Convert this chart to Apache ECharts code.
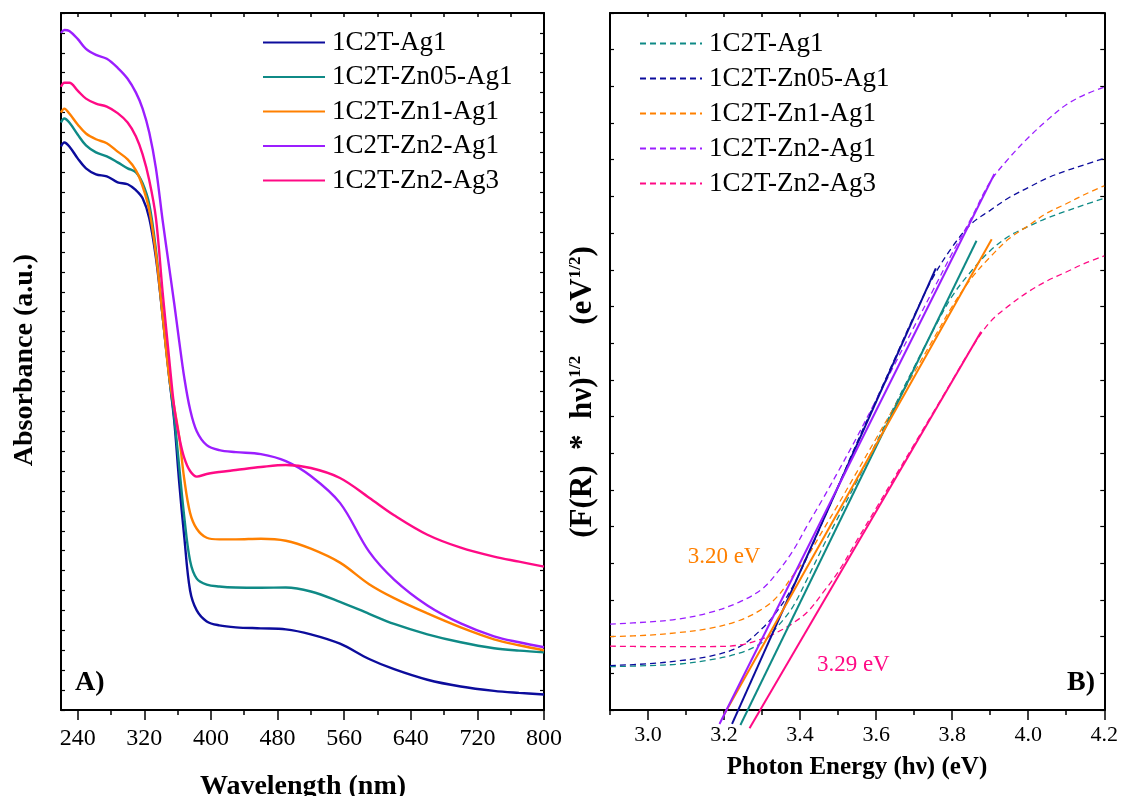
<!DOCTYPE html>
<html>
<head>
<meta charset="utf-8">
<script src="https://cdn.jsdelivr.net/npm/echarts@6.0.0/dist/echarts.min.js"></script>
<style>
html, body { margin: 0; padding: 0; background: #fff; }
#chart { width: 1121px; height: 796px; }
</style>
</head>
<body>
<div id="chart"></div>
<script>
// ---- panel A: absorbance spectra ----
var wavelength = [220, 224, 230, 240, 250, 262, 275, 288, 300, 310, 318, 326, 334, 342, 350, 356, 362, 368, 375, 383,
                  395, 410, 430, 460, 490, 520, 555, 590, 620, 660, 700, 740, 770, 800];
var absAg1     = [2.83, 2.85, 2.83, 2.77, 2.72, 2.69, 2.68, 2.65, 2.64, 2.61, 2.57, 2.47, 2.27, 1.98, 1.67, 1.45, 1.14, 0.87, 0.60, 0.50,
                  0.445, 0.425, 0.415, 0.41, 0.405, 0.38, 0.333, 0.256, 0.205, 0.152, 0.118, 0.096, 0.086, 0.078];
var absZn05    = [2.95, 2.97, 2.95, 2.89, 2.835, 2.80, 2.78, 2.75, 2.72, 2.70, 2.645, 2.54, 2.31, 1.98, 1.67, 1.47, 1.22, 0.97, 0.75, 0.66,
                  0.63, 0.62, 0.615, 0.614, 0.615, 0.595, 0.543, 0.483, 0.432, 0.38, 0.34, 0.31, 0.298, 0.29];
var absZn1     = [3.00, 3.02, 2.995, 2.94, 2.895, 2.866, 2.846, 2.804, 2.765, 2.71, 2.63, 2.51, 2.29, 1.98, 1.67, 1.52, 1.37, 1.16, 0.99, 0.91,
                  0.865, 0.857, 0.857, 0.86, 0.85, 0.81, 0.74, 0.632, 0.562, 0.485, 0.415, 0.355, 0.325, 0.30];
var absZn2     = [3.40, 3.415, 3.41, 3.37, 3.32, 3.29, 3.27, 3.225, 3.17, 3.10, 3.02, 2.90, 2.72, 2.46, 2.22, 2.04, 1.85, 1.67, 1.51, 1.40,
                  1.33, 1.305, 1.295, 1.285, 1.25, 1.175, 1.04, 0.795, 0.655, 0.525, 0.435, 0.37, 0.34, 0.315];
var absZn2Ag3  = [3.13, 3.15, 3.15, 3.11, 3.07, 3.045, 3.03, 2.997, 2.95, 2.88, 2.79, 2.66, 2.47, 2.10, 1.76, 1.52, 1.37, 1.266, 1.20, 1.172,
                  1.185, 1.195, 1.205, 1.22, 1.23, 1.215, 1.165, 1.066, 0.978, 0.88, 0.815, 0.77, 0.745, 0.72];

// ---- panel B: Tauc plot ----
var energy     = [2.90, 3.00, 3.08, 3.16, 3.24, 3.30, 3.34, 3.38, 3.42, 3.46, 3.50, 3.55, 3.60, 3.65, 3.70, 3.75, 3.80, 3.85,
                  3.90, 3.95, 4.00, 4.05, 4.10, 4.15, 4.20];
var taucAg1    = [0.118, 0.121, 0.125, 0.136, 0.155, 0.184, 0.227, 0.280, 0.360, 0.445, 0.525, 0.625, 0.728, 0.832, 0.935, 1.035, 1.128, 1.196,
                  1.252, 1.292, 1.318, 1.341, 1.360, 1.378, 1.395];
var taucZn05   = [0.121, 0.126, 0.134, 0.146, 0.172, 0.222, 0.270, 0.335, 0.420, 0.515, 0.610, 0.730, 0.845, 0.960, 1.075, 1.180, 1.262, 1.325,
                  1.362, 1.397, 1.424, 1.450, 1.470, 1.487, 1.504];
var taucZn1    = [0.200, 0.204, 0.211, 0.222, 0.244, 0.275, 0.309, 0.365, 0.420, 0.490, 0.560, 0.650, 0.740, 0.830, 0.920, 1.010, 1.100, 1.176,
                  1.235, 1.285, 1.320, 1.355, 1.380, 1.406, 1.429];
var taucZn2    = [0.234, 0.240, 0.248, 0.265, 0.294, 0.330, 0.375, 0.432, 0.505, 0.576, 0.650, 0.745, 0.845, 0.945, 1.045, 1.145, 1.245, 1.340,
                  1.440, 1.505, 1.560, 1.608, 1.650, 1.678, 1.698];
var taucZn2Ag3 = [0.174, 0.173, 0.173, 0.173, 0.177, 0.194, 0.212, 0.236, 0.268, 0.320, 0.376, 0.463, 0.550, 0.637, 0.724, 0.811, 0.898, 0.985,
                  1.058, 1.103, 1.140, 1.170, 1.194, 1.218, 1.238];

// linear fits (start / end points)
var fitAg1X = [3.243, 3.864],    fitAg1Y = [-0.041, 1.279];
var fitZn05X = [3.221, 3.757],   fitZn05Y = [-0.038, 1.204];
var fitZn1X = [3.199, 3.904],    fitZn1Y = [-0.014, 1.283];
var fitZn2X = [3.188, 3.911],    fitZn2Y = [-0.038, 1.461];
var fitZn2Ag3X = [3.267, 3.876], fitZn2Ag3Y = [-0.050, 1.031];

var names = ['1C2T-Ag1', '1C2T-Zn05-Ag1', '1C2T-Zn1-Ag1', '1C2T-Zn2-Ag1', '1C2T-Zn2-Ag3'];
var wlMajor = [240, 320, 400, 480, 560, 640, 720, 800];
var wlMinor = [280, 360, 440, 520, 600, 680, 760];
var eMajor = [3.0, 3.2, 3.4, 3.6, 3.8, 4.0, 4.2];
var eMinor = [2.9, 3.1, 3.3, 3.5, 3.7, 3.9, 4.1];

var NAVY = '#0c0c9c', TEAL = '#0f8a86', ORANGE = '#ff8000', PURPLE = '#9b1eff', PINK = '#ff0a85';
var SERIF = '"Liberation Serif", "Times New Roman", serif';

(function() {
    var chart = echarts.init(document.getElementById('chart'));

    function zip(xs, ys) {
        return xs.map(function(x, i) { return [x, ys[i]]; });
    }

    function solid(name, color, xs, ys) {
        return {
            name: name, type: 'line', xAxisIndex: 0, yAxisIndex: 0,
            data: zip(xs, ys), symbol: 'none', smooth: 0.35,
            lineStyle: { color: color, width: 2.4 }, itemStyle: { color: color }
        };
    }

    function dashed(name, color, ys) {
        return {
            name: name + ' (B)', type: 'line', xAxisIndex: 3, yAxisIndex: 2,
            data: zip(energy, ys), symbol: 'none', smooth: 0.35,
            lineStyle: { color: color, width: 1.3, type: [6, 4] }, itemStyle: { color: color }
        };
    }

    function fit(name, color, xs, ys) {
        return {
            name: name, type: 'line', xAxisIndex: 3, yAxisIndex: 2, clip: false,
            data: zip(xs, ys), symbol: 'none',
            lineStyle: { color: color, width: 2 }
        };
    }

    function xAx(grid, pos, min, max, ticks, len, inside, labels, fmt, size, margin, line) {
        return {
            type: 'value', gridIndex: grid, position: pos, min: min, max: max,
            axisLine: { show: line, onZero: false, lineStyle: { color: '#000', width: 2 } },
            axisTick: { show: true, customValues: ticks, length: len, inside: inside, lineStyle: { color: '#000', width: 1.5 } },
            axisLabel: labels ? { show: true, customValues: labels, formatter: fmt, color: '#000',
                                  fontFamily: SERIF, fontSize: size, margin: margin } : { show: false },
            splitLine: { show: false }
        };
    }

    function yAx(grid, pos, max) {
        return {
            type: 'value', gridIndex: grid, position: pos, min: 0, max: max, interval: 0.1,
            axisLine: { show: true, onZero: false, lineStyle: { color: '#000', width: 2 } },
            axisTick: { show: true, inside: true, length: 4, lineStyle: { color: '#000', width: 1.2 } },
            axisLabel: { show: false },
            splitLine: { show: false }
        };
    }

    var allWl = wlMajor.concat(wlMinor);
    var allE = eMajor.concat(eMinor);
    var legendText = { fontFamily: SERIF, fontSize: 27, color: '#000', padding: [0, 0, 0, 2] };
    var noteLabel = { show: true, position: 'inside', fontFamily: SERIF, textBorderWidth: 0, opacity: 1 };

    var option = {
        animation: false,
        backgroundColor: '#fff',
        grid: [
            { left: 61, top: 13, width: 483, height: 697 },
            { left: 610, top: 13, width: 495, height: 697 }
        ],
        xAxis: [
            xAx(0, 'bottom', 220, 800, wlMajor, 10, false, wlMajor, function(v) { return String(v); }, 24, 17, true),
            xAx(0, 'bottom', 220, 800, wlMinor, 5, false, null, null, 0, 0, false),
            xAx(0, 'top', 220, 800, allWl, 4, true, null, null, 0, 0, true),
            xAx(1, 'bottom', 2.9, 4.2, eMajor, 10, false, eMajor, function(v) { return v.toFixed(1); }, 22, 14, true),
            xAx(1, 'bottom', 2.9, 4.2, eMinor, 5, false, null, null, 0, 0, false),
            xAx(1, 'top', 2.9, 4.2, allE, 4, true, null, null, 0, 0, true)
        ],
        yAxis: [
            yAx(0, 'left', 3.5),
            yAx(0, 'right', 3.5),
            yAx(1, 'left', 1.9),
            yAx(1, 'right', 1.9)
        ],
        legend: [
            {
                data: names, orient: 'vertical', left: 257, top: 24,
                itemWidth: 62, itemHeight: 14, itemGap: 7.5,
                itemStyle: { opacity: 0 },
                textStyle: legendText
            },
            {
                data: names.map(function(n) { return n + ' (B)'; }),
                formatter: function(n) { return n.replace(' (B)', ''); },
                orient: 'vertical', left: 634, top: 25,
                itemWidth: 62, itemHeight: 14, itemGap: 8,
                itemStyle: { opacity: 0 },
                textStyle: legendText
            }
        ],
        series: [
            solid(names[0], NAVY, wavelength, absAg1),
            solid(names[1], TEAL, wavelength, absZn05),
            solid(names[2], ORANGE, wavelength, absZn1),
            solid(names[3], PURPLE, wavelength, absZn2),
            solid(names[4], PINK, wavelength, absZn2Ag3),

            dashed(names[0], TEAL, taucAg1),
            dashed(names[1], NAVY, taucZn05),
            dashed(names[2], ORANGE, taucZn1),
            dashed(names[3], PURPLE, taucZn2),
            dashed(names[4], PINK, taucZn2Ag3),

            fit('fit Ag1', TEAL, fitAg1X, fitAg1Y),
            fit('fit Zn05', NAVY, fitZn05X, fitZn05Y),
            fit('fit Zn1', ORANGE, fitZn1X, fitZn1Y),
            fit('fit Zn2', PURPLE, fitZn2X, fitZn2Y),
            fit('fit Zn2Ag3', PINK, fitZn2Ag3X, fitZn2Ag3Y),

            {
                name: 'notes B', type: 'scatter', xAxisIndex: 3, yAxisIndex: 2, silent: true,
                symbolSize: 1, itemStyle: { color: 'rgba(255,255,255,0)' },
                label: noteLabel,
                data: [
                    { value: [3.20, 0.417], label: { formatter: '3.20 eV', color: ORANGE, fontSize: 23 } },
                    { value: [3.54, 0.123], label: { formatter: '3.29 eV', color: PINK, fontSize: 23 } },
                    { value: [4.139, 0.074], label: { formatter: 'B)', color: '#000', fontWeight: 'bold', fontSize: 28 } }
                ]
            },
            {
                name: 'notes A', type: 'scatter', xAxisIndex: 0, yAxisIndex: 0, silent: true,
                symbolSize: 1, itemStyle: { color: 'rgba(255,255,255,0)' },
                label: noteLabel,
                data: [ { value: [254.5, 0.136], label: { formatter: 'A)', color: '#000', fontWeight: 'bold', fontSize: 28 } } ]
            }
        ],
        graphic: [
            {
                type: 'text', x: 25, y: 360, rotation: Math.PI / 2,
                style: { text: 'Absorbance (a.u.)', font: 'bold 28px ' + SERIF, fill: '#000',
                         align: 'center', verticalAlign: 'middle' }
            },
            {
                type: 'text', x: 303, y: 787,
                style: { text: 'Wavelength (nm)', font: 'bold 28px ' + SERIF, fill: '#000',
                         align: 'center', verticalAlign: 'middle' }
            },
            {
                type: 'text', x: 857, y: 768,
                style: { text: 'Photon Energy (hν) (eV)', font: 'bold 25px ' + SERIF, fill: '#000',
                         align: 'center', verticalAlign: 'middle' }
            },
            {
                type: 'text', x: 583, y: 392, rotation: Math.PI / 2,
                style: {
                    text: '{m|(F(R)  *  hν)}{s|1/2}{m|    (eV}{s|1/2}{m|)}',
                    align: 'center', verticalAlign: 'middle', fill: '#000',
                    rich: {
                        m: { fontFamily: SERIF, fontWeight: 'bold', fontSize: 31, lineHeight: 32, fill: '#000' },
                        s: { fontFamily: SERIF, fontWeight: 'bold', fontSize: 17, lineHeight: 32, verticalAlign: 'top', fill: '#000' }
                    }
                }
            }
        ]
    };
    chart.setOption(option);
})();
</script>
</body>
</html>
